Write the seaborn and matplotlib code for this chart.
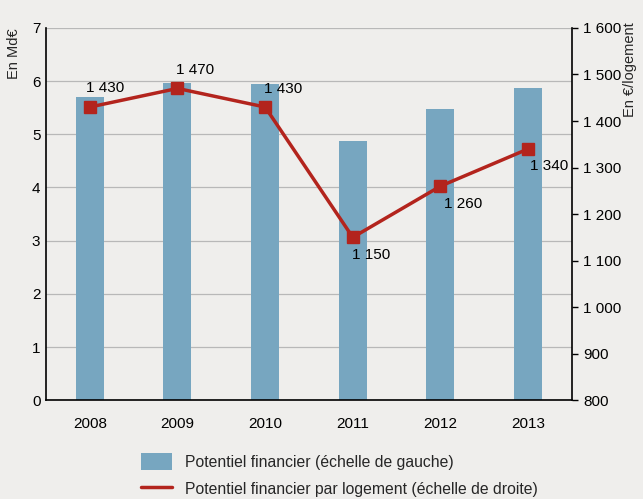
import matplotlib
matplotlib.use("Agg")
import matplotlib.pyplot as plt
import matplotlib.ticker as mticker
from matplotlib.patches import Patch
from matplotlib.lines import Line2D
import seaborn as sns
import pandas as pd

# Donnees
years = ["2008", "2009", "2010", "2011", "2012", "2013"]
potentiel_mde = [5.7, 5.97, 5.95, 4.88, 5.48, 5.88]
potentiel_logement = [1430, 1470, 1430, 1150, 1260, 1340]
label_offsets = [(11, 14), (13, 13), (13, 13), (13, -13), (16, -13), (15, -12)]

bg = "#efeeec"
bar_color = "#77a6c0"
line_color = "#b3241d"

sns.set_theme(style="white")
plt.rcParams["font.family"] = ["Liberation Sans", "DejaVu Sans"]

df = pd.DataFrame({"annee": years, "mde": potentiel_mde, "log": potentiel_logement})

fig = plt.figure(figsize=(6.43, 4.99), dpi=100, facecolor=bg)
ax = fig.add_axes([0.0715, 0.198, 0.818, 0.746])
ax.set_facecolor(bg)

sns.barplot(data=df, x="annee", y="mde", ax=ax, color=bar_color, width=0.32,
            saturation=1, linewidth=0, zorder=2)
ax.set_ylim(0, 7)
ax.set_yticks(range(0, 8))
ax.yaxis.grid(True, color="#b8b8b8", linewidth=0.9, zorder=0)
ax.set_axisbelow(True)
ax.set_xlabel("")
ax.set_ylabel("")
for s in ["top", "right"]:
    ax.spines[s].set_visible(False)
for s in ["left", "bottom"]:
    ax.spines[s].set_color("black")
    ax.spines[s].set_linewidth(1.2)
ax.tick_params(axis="both", labelsize=11, length=0, colors="black")
ax.tick_params(axis="y", pad=4)
ax.tick_params(axis="x", pad=12)

ax2 = ax.twinx()
ax2.plot(range(len(years)), df["log"], color=line_color, linewidth=2.5,
         marker="s", markersize=8, zorder=5)
ax2.set_ylim(800, 1600)
ax2.set_yticks(range(800, 1601, 100))
ax2.yaxis.set_major_formatter(mticker.FuncFormatter(lambda v, p: f"{v:,.0f}".replace(",", " ")))
for s in ["top", "left", "bottom"]:
    ax2.spines[s].set_visible(False)
ax2.spines["right"].set_color("black")
ax2.spines["right"].set_linewidth(1.2)
ax2.tick_params(axis="y", labelsize=11, length=4, width=1, direction="out", pad=4, colors="black")
ax.set_xlim(-0.5, 5.5)

for i, (v, off) in enumerate(zip(potentiel_logement, label_offsets)):
    ax2.annotate(f"{v:,}".replace(",", " "), (i, v), xytext=off, textcoords="offset points",
                 ha="center", va="center", fontsize=11, color="black", zorder=6)

fig.text(0.022, 0.944, "En Md€", rotation=90, ha="center", va="top", fontsize=10.5)
fig.text(0.98, 0.955, "En €/logement", rotation=90, ha="center", va="top", fontsize=10.5)

handles = [Patch(facecolor=bar_color, edgecolor="none"),
           Line2D([0], [0], color=line_color, linewidth=2.5)]
labels = ["Potentiel financier (échelle de gauche)",
          "Potentiel financier par logement (échelle de droite)"]
fig.legend(handles, labels, loc="lower left", bbox_to_anchor=(0.197, -0.024), frameon=False,
           fontsize=11.3, handlelength=2.0, handleheight=1.3, labelspacing=0.6, handletextpad=0.8)

fig.savefig("out.png", dpi=100, facecolor=bg)
